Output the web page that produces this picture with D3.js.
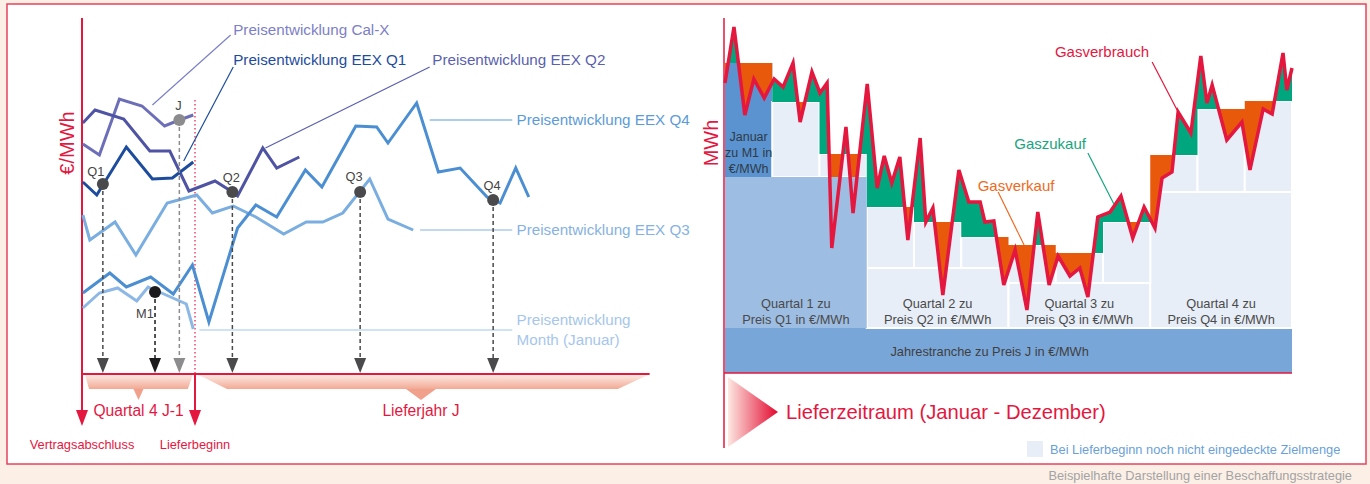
<!DOCTYPE html>
<html>
<head>
<meta charset="utf-8">
<script src="https://cdn.jsdelivr.net/npm/d3@7"></script>
<style>
    body { margin: 0; background: #fcefe6; }
    text { font-family: "Liberation Sans", Arial, sans-serif; }
</style>
</head>
<body>
<svg id="chart" width="1370" height="484"></svg>
<script>
"use strict";

// ---- left panel: price development, weeks relative to Lieferbeginn, €/MWh
const calXWeek = [-12.9, -11.0, -8.7, -6.1, -3.5, -1.8, -0.2];
const calXPrice = [43.0, 41.9, 47.5, 46.8, 44.8, 45.4, 45.9];
const q1Week = [-12.9, -11.3, -7.9, -4.9, -2.6, -0.2];
const q1Price = [39.2, 37.9, 42.7, 39.5, 39.6, 41.2];
const q2Week = [-12.9, -11.5, -8.2, -5.2, -2.9, -0.7, 2.3, 4.3, 4.9, 7.8, 9.4, 12.0];
const q2Price = [45.1, 46.4, 45.5, 42.3, 42.3, 38.3, 39.3, 38.2, 37.8, 42.6, 40.6, 41.7];
const q3Week = [-12.9, -12.1, -9.2, -6.8, -3.2, 0.2, 2.0, 4.4, 7.0, 10.2, 12.8, 14.7, 17.0, 20.1, 22.2, 25.1];
const q3Price = [35.9, 33.4, 35.2, 31.9, 37.1, 37.9, 36.1, 36.8, 35.7, 34.0, 35.2, 35.2, 36.1, 39.5, 35.5, 34.4];
const q4Week = [-12.9, -9.8, -7.9, -5.1, -2.5, -0.3, 1.6, 4.9, 7.0, 9.4, 12.7, 14.6, 18.5, 20.9, 22.2, 25.5, 28.0, 30.5, 33.6, 35.1, 36.9, 38.4];
const q4Price = [28.1, 30.1, 28.7, 29.7, 28.0, 30.9, 25.2, 34.6, 36.9, 35.7, 40.4, 38.7, 44.8, 44.7, 43.1, 47.1, 40.2, 40.6, 37.7, 37.1, 40.6, 37.7];
const m1Week = [-12.9, -11.0, -8.9, -6.7, -5.4, -1.0, -0.2];
const m1Price = [26.6, 28.1, 28.6, 27.3, 28.7, 27.0, 24.5];

// purchase points (Q1, M1, J, Q2, Q3, Q4)
const buyNames = ["Q1", "M1", "J", "Q2", "Q3", "Q4"];
const buyWeek = [-10.6, -4.6, -1.8, 4.3, 19.0, 34.3];
const buyPrice = [39.0, 28.2, 45.4, 38.2, 38.2, 37.4];

// ---- right panel: monthly volumes in MWh
const monthNames = ["Jan", "Feb", "Mär", "Apr", "Mai", "Jun", "Jul", "Aug", "Sep", "Okt", "Nov", "Dez"];
const monthLevel = [62.0, 54.2, 43.8, 33.2, 30.2, 27.2, 25.6, 24.0, 30.2, 43.6, 52.8, 54.4];
const quarterLevel = [39.2, 21.0, 18.0, 36.2];
const yearLevel = 9.0;
const gasMonth = [0.00, 0.19, 0.42, 0.61, 0.83, 1.04, 1.23, 1.44, 1.59, 1.84, 2.01, 2.16, 2.26, 2.56, 2.71,
    3.01, 3.22, 3.37, 3.53, 3.70, 3.87, 4.13, 4.25, 4.40, 4.61, 4.95, 5.16, 5.40, 5.50, 5.69,
    5.90, 6.14, 6.39, 6.62, 6.86, 7.05, 7.30, 7.51, 7.68, 7.89, 8.15, 8.38, 8.63, 8.87, 9.10,
    9.25, 9.46, 9.59, 9.86, 10.07, 10.20, 10.31, 10.62, 10.94, 11.11, 11.39, 11.58, 11.81, 11.89, 12.00];
const gasMWh = [58.0, 69.2, 51.6, 58.8, 55.0, 58.8, 57.2, 62.0, 50.2, 60.2, 56.0, 58.0, 25.0, 49.2, 32.0,
    57.8, 37.0, 43.4, 38.0, 43.2, 26.6, 47.0, 30.2, 33.0, 15.6, 40.6, 34.2, 34.2, 30.2, 30.4,
    17.6, 24.6, 12.6, 32.2, 17.6, 23.4, 19.4, 21.0, 15.2, 31.2, 32.2, 35.4, 27.0, 33.2, 29.0,
    39.0, 40.2, 52.2, 48.0, 63.4, 54.0, 57.6, 46.6, 50.2, 40.6, 52.8, 51.8, 64.0, 56.6, 61.0];
const quarterText = [
    ["Quartal 1 zu", "Preis Q1 in €/MWh"],
    ["Quartal 2 zu", "Preis Q2 in €/MWh"],
    ["Quartal 3 zu", "Preis Q3 in €/MWh"],
    ["Quartal 4 zu", "Preis Q4 in €/MWh"],
];

const RED = "#e4173f";
const GREEN = "#00a77e";
const ORANGE = "#e8590c";
const LIGHT = "#e7eef8";
const SMALL = 12.8;
const POINT_COLORS = { Q1: "#4a4a4d", M1: "#1b1b1d", J: "#8c8c8f", Q2: "#4a4a4d", Q3: "#4a4a4d", Q4: "#4a4a4d" };

const svg = d3.select("#chart");
const defs = svg.append("defs");

// background + frame
svg.append("rect").attr("width", 1370).attr("height", 484).attr("fill", "#fcefe6");
svg.append("rect").attr("x", 7).attr("y", 4).attr("width", 1359).attr("height", 460)
    .attr("fill", "#fff").attr("stroke", "#e8435f").attr("stroke-width", 1.5);
svg.append("text").attr("x", 1352).attr("y", 480).attr("text-anchor", "end")
    .attr("font-size", SMALL).attr("fill", "#a3a3a3")
    .text("Beispielhafte Darstellung einer Beschaffungsstrategie");

// gradients
const brG = defs.append("linearGradient").attr("id", "bracket").attr("x1", 0).attr("y1", 0).attr("x2", 0).attr("y2", 1);
brG.append("stop").attr("offset", "0%").attr("stop-color", "#fde9e2");
brG.append("stop").attr("offset", "100%").attr("stop-color", "#f2a994");
const arG = defs.append("linearGradient").attr("id", "arrowGrad").attr("x1", 0).attr("y1", 0).attr("x2", 1).attr("y2", 0);
arG.append("stop").attr("offset", "0%").attr("stop-color", "#fde8e2");
arG.append("stop").attr("offset", "100%").attr("stop-color", "#e3082f");

// ================= LEFT PANEL =================
const xL = d3.scaleLinear().domain([-13, 52]).range([82, 647]);
const yL = d3.scaleLinear().domain([20, 50]).range([374, 74]);
const left = svg.append("g");

const downArrow = (g, x, yTop, color, w, h) => {
    g.append("path")
        .attr("d", `M${x - w / 2},${yTop}L${x + w / 2},${yTop}L${x},${yTop + h}Z`)
        .attr("fill", color);
};

// brackets under time axis
const axisY = yL(20);
const bracket = (w0, w1, inset0, inset1, mid, tw) => {
    left.append("path")
        .attr("d", `M${xL(w0)},${axisY + 1}L${xL(w1)},${axisY + 1}L${xL(w1) - inset1},${axisY + 15}`
            + `L${xL(w0) + inset0},${axisY + 15}Z`)
        .attr("fill", "url(#bracket)");
    left.append("path")
        .attr("d", `M${xL(mid) - tw},${axisY + 15}L${xL(mid) + tw},${axisY + 15}L${xL(mid)},${axisY + 26}Z`)
        .attr("fill", "#f0a08b");
};
bracket(-12.65, -0.25, 4, 5, -6.5, 5);
bracket(0.45, 52.1, 28, 30, 26, 15);

// axes
left.append("line").attr("x1", xL(-13)).attr("x2", xL(-13)).attr("y1", 18).attr("y2", axisY + 38)
    .attr("stroke", RED).attr("stroke-width", 2);
downArrow(left, xL(-13), axisY + 36, RED, 12, 16);
left.append("line").attr("x1", xL(-13)).attr("x2", xL(52.3)).attr("y1", axisY).attr("y2", axisY)
    .attr("stroke", RED).attr("stroke-width", 2);
left.append("line").attr("x1", xL(0)).attr("x2", xL(0)).attr("y1", yL(47.4)).attr("y2", axisY)
    .attr("stroke", RED).attr("stroke-width", 1.2).attr("stroke-dasharray", "1.5,2.5");
left.append("line").attr("x1", xL(0)).attr("x2", xL(0)).attr("y1", axisY).attr("y2", axisY + 38)
    .attr("stroke", RED).attr("stroke-width", 2);
downArrow(left, xL(0), axisY + 36, RED, 12, 16);

left.append("text").attr("transform", `translate(${xL(-13) - 8},${yL(43.1)}) rotate(-90)`)
    .attr("text-anchor", "middle").attr("font-size", 20).attr("fill", RED).text("€/MWh");
left.append("text").attr("x", xL(-6.5)).attr("y", axisY + 42).attr("text-anchor", "middle")
    .attr("font-size", 15.6).attr("fill", RED).text("Quartal 4 J-1");
left.append("text").attr("x", xL(26)).attr("y", axisY + 42).attr("text-anchor", "middle")
    .attr("font-size", 15.6).attr("fill", RED).text("Lieferjahr J");
left.append("text").attr("x", xL(-13)).attr("y", axisY + 75).attr("text-anchor", "middle")
    .attr("font-size", SMALL).attr("fill", RED).text("Vertragsabschluss");
left.append("text").attr("x", xL(0)).attr("y", axisY + 75).attr("text-anchor", "middle")
    .attr("font-size", SMALL).attr("fill", RED).text("Lieferbeginn");

// price lines
const priceLine = d3.line().x((d) => xL(d[0])).y((d) => yL(d[1]));
const series = [
    { w: m1Week, p: m1Price, color: "#8db8e6" },
    { w: q3Week, p: q3Price, color: "#7aade0" },
    { w: q4Week, p: q4Price, color: "#4b8fd2" },
    { w: calXWeek, p: calXPrice, color: "#6c6eb8" },
    { w: q2Week, p: q2Price, color: "#4f53a3" },
    { w: q1Week, p: q1Price, color: "#1d4c9c" },
];
series.forEach((s) => {
    left.append("path").datum(d3.zip(s.w, s.p))
        .attr("d", priceLine).attr("fill", "none")
        .attr("stroke", s.color).attr("stroke-width", 3).attr("stroke-linejoin", "miter");
});

// labels with leader lines
const labels = [
    { text: ["Preisentwicklung Cal-X"], color: "#7c80c6", from: [-4.9, 46.9], to: [4.1, 53.9], at: [4.4, 53.9] },
    { text: ["Preisentwicklung EEX Q1"], color: "#1d4c9c", from: [-1.3, 41.3], to: [4.4, 50.7], at: [4.4, 50.9] },
    { text: ["Preisentwicklung EEX Q2"], color: "#5a5fae", from: [8.1, 42.6], to: [27.0, 50.7], at: [27.3, 50.9] },
    { text: ["Preisentwicklung EEX Q4"], color: "#5b9bd8", from: [27.0, 45.4], to: [36.5, 45.4], at: [37.0, 44.9] },
    { text: ["Preisentwicklung EEX Q3"], color: "#86b2e2", from: [25.9, 34.4], to: [36.5, 34.4], at: [37.0, 33.9] },
    { text: ["Preisentwicklung", "Month (Januar)"], color: "#a6c6ec", from: [0.5, 24.4], to: [36.5, 24.4], at: [37.0, 24.9] },
];
labels.forEach((l) => {
    left.append("line")
        .attr("x1", xL(l.from[0])).attr("y1", yL(l.from[1]))
        .attr("x2", xL(l.to[0])).attr("y2", yL(l.to[1]))
        .attr("stroke", l.color).attr("stroke-width", 1.2);
    l.text.forEach((t, i) => {
        left.append("text").attr("x", xL(l.at[0])).attr("y", yL(l.at[1]) + i * 20)
            .attr("font-size", 15.2).attr("fill", l.color).text(t);
    });
});

// purchase points with dashed arrows to the time axis
const labelOffset = { Q1: [-7, -8], M1: [-10, 26], J: [-1, -10], Q2: [-1, -10], Q3: [-6, -11], Q4: [-1, -10] };
buyNames.forEach((name, i) => {
    const px = xL(buyWeek[i]);
    const py = yL(buyPrice[i]);
    const c = POINT_COLORS[name];
    left.append("line").attr("x1", px).attr("x2", px).attr("y1", py).attr("y2", axisY - 16)
        .attr("stroke", c).attr("stroke-width", 1.5).attr("stroke-dasharray", "4,3");
    downArrow(left, px, axisY - 16, c, 12, 15);
    left.append("circle").attr("cx", px).attr("cy", py).attr("r", 6).attr("fill", c);
    left.append("text").attr("x", px + labelOffset[name][0]).attr("y", py + labelOffset[name][1])
        .attr("text-anchor", "middle").attr("font-size", SMALL).attr("fill", "#444").text(name);
});

// ================= RIGHT PANEL =================
const xR = d3.scaleLinear().domain([0, 12]).range([725, 1292]);
const yR = d3.scaleLinear().domain([0, 70]).range([373, 23]);
const right = svg.append("g");

// yearly tranche
right.append("rect").attr("x", xR(0)).attr("y", yR(yearLevel))
    .attr("width", xR(12) - xR(0)).attr("height", yR(0) - yR(yearLevel)).attr("fill", "#79a6d8");

// quarters 2-4 (light), monthly blocks
quarterLevel.forEach((q, i) => {
    if (i === 0) return;
    right.append("rect").attr("x", xR(i * 3)).attr("y", yR(q))
        .attr("width", xR(3) - xR(0)).attr("height", yR(yearLevel) - yR(q))
        .attr("fill", LIGHT).attr("stroke", "#fff").attr("stroke-width", 2);
});
monthLevel.forEach((m, i) => {
    const q = quarterLevel[Math.floor(i / 3)];
    right.append("rect").attr("x", xR(i)).attr("y", yR(m))
        .attr("width", xR(1) - xR(0)).attr("height", yR(q) - yR(m))
        .attr("fill", i === 0 ? "#5a93cf" : LIGHT)
        .attr("stroke", i === 0 ? "none" : "#fff").attr("stroke-width", 2);
});

// clip regions above / below the purchased step level
const stepData = monthLevel.map((m, i) => [i, m]).concat([[12, monthLevel[11]]]);
defs.append("clipPath").attr("id", "aboveStep").append("path")
    .attr("d", d3.area().curve(d3.curveStepAfter).x((d) => xR(d[0])).y0(0).y1((d) => yR(d[1]))(stepData));
defs.append("clipPath").attr("id", "belowStep").append("path")
    .attr("d", d3.area().curve(d3.curveStepAfter).x((d) => xR(d[0])).y0((d) => yR(d[1])).y1(yR(0))(stepData));

const gasData = d3.zip(gasMonth, gasMWh);
right.append("path").datum(gasData).attr("clip-path", "url(#aboveStep)")
    .attr("d", d3.area().x((d) => xR(d[0])).y0(yR(0)).y1((d) => yR(d[1])))
    .attr("fill", GREEN);
right.append("path").datum(gasData).attr("clip-path", "url(#belowStep)")
    .attr("d", d3.area().x((d) => xR(d[0])).y0(0).y1((d) => yR(d[1])))
    .attr("fill", ORANGE);

// quarter 1 (already covered)
right.append("rect").attr("x", xR(0)).attr("y", yR(quarterLevel[0]))
    .attr("width", xR(3) - xR(0)).attr("height", yR(yearLevel) - yR(quarterLevel[0]))
    .attr("fill", "#9dbde3");

// consumption line
right.append("path").datum(gasData)
    .attr("d", d3.line().x((d) => xR(d[0])).y((d) => yR(d[1])))
    .attr("fill", "none").attr("stroke", RED).attr("stroke-width", 3.5).attr("stroke-linejoin", "miter");

// block texts
quarterText.forEach((t, i) => {
    t.forEach((line, j) => {
        right.append("text").attr("x", xR(i * 3 + 1.5)).attr("y", yR(yearLevel) - 20 + j * 16)
            .attr("text-anchor", "middle").attr("font-size", SMALL).attr("fill", "#4a4a4a").text(line);
    });
});
right.append("text").attr("x", xR(5.6)).attr("y", yR(yearLevel / 2) + 5).attr("text-anchor", "middle")
    .attr("font-size", SMALL).attr("fill", "#3f3f3f").text("Jahrestranche zu Preis J in €/MWh");
["Januar", "zu M1 in", "€/MWh"].forEach((line, j) => {
    right.append("text").attr("x", xR(0.5)).attr("y", yR(quarterLevel[0]) - 36 + j * 16)
        .attr("text-anchor", "middle").attr("font-size", 12.5).attr("fill", "#2f3a48").text(line);
});

// annotations
const notes = [
    { text: "Gasverbrauch", color: RED, at: [7.98, 63.2], from: [9.04, 62.2], to: [9.59, 52.2] },
    { text: "Gaszukauf", color: "#17a57e", at: [6.88, 44.9], from: [7.68, 44.0], to: [8.23, 33.8] },
    { text: "Gasverkauf", color: "#ee6a22", at: [6.16, 36.5], from: [5.78, 36.2], to: [6.33, 25.6] },
];
notes.forEach((n) => {
    right.append("line").attr("x1", xR(n.from[0])).attr("y1", yR(n.from[1]))
        .attr("x2", xR(n.to[0])).attr("y2", yR(n.to[1]))
        .attr("stroke", n.color).attr("stroke-width", 1.2);
    right.append("text").attr("x", xR(n.at[0])).attr("y", yR(n.at[1])).attr("text-anchor", "middle")
        .attr("font-size", 15).attr("fill", n.color).text(n.text);
});

// axes
right.append("line").attr("x1", xR(0) - 1).attr("x2", xR(0) - 1).attr("y1", 18).attr("y2", 448)
    .attr("stroke", RED).attr("stroke-width", 1.5);
right.append("line").attr("x1", xR(0) - 1).attr("x2", xR(12)).attr("y1", yR(0)).attr("y2", yR(0))
    .attr("stroke", RED).attr("stroke-width", 1.5);
right.append("text").attr("transform", `translate(${xR(0) - 7},${yR(46)}) rotate(-90)`)
    .attr("text-anchor", "middle").attr("font-size", 20).attr("fill", RED).text("MWh");

// Lieferzeitraum arrow
right.append("path").attr("d", `M${xR(0) + 3},377L${xR(0) + 53},412L${xR(0) + 3},447Z`)
    .attr("fill", "url(#arrowGrad)");
right.append("text").attr("x", xR(0) + 61).attr("y", 419).attr("font-size", 20.2).attr("fill", RED)
    .text("Lieferzeitraum (Januar - Dezember)");

// legend
right.append("rect").attr("x", 1027).attr("y", 441).attr("width", 16).attr("height", 16).attr("fill", LIGHT);
right.append("text").attr("x", 1050).attr("y", 454).attr("font-size", SMALL).attr("fill", "#6a9fd8")
    .text("Bei Lieferbeginn noch nicht eingedeckte Zielmenge");
</script>
</body>
</html>
